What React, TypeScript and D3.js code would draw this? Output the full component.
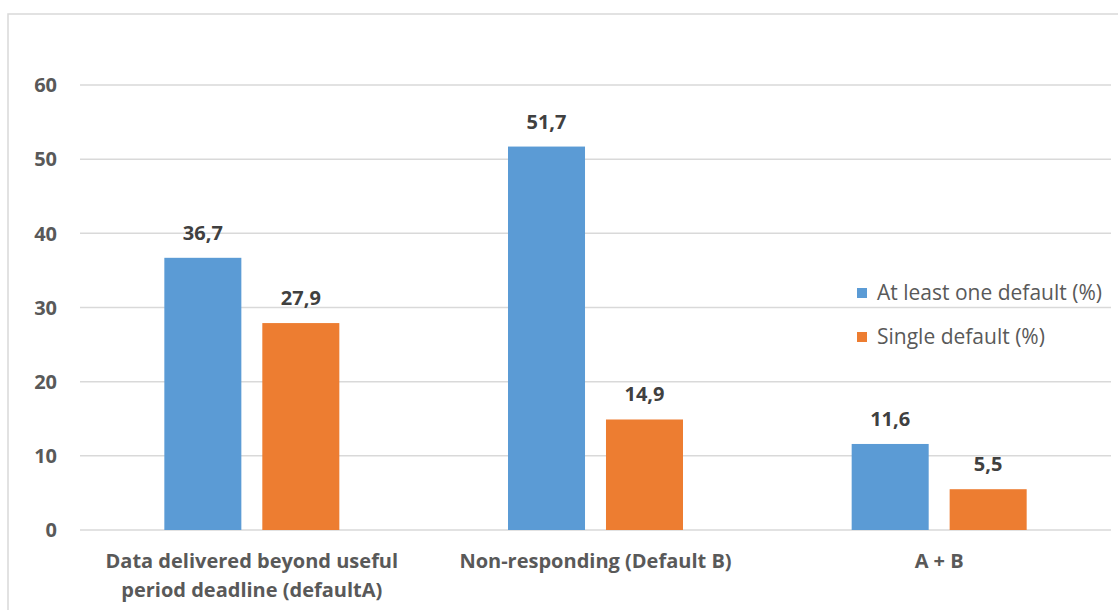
import React from 'react';
import * as d3 from 'd3';

const categories = ['Data delivered beyond useful|period deadline (defaultA)', 'Non-responding (Default B)', 'A + B'];
const seriesNames = ['At least one default (%)', 'Single default (%)'];
const atLeastOne = [36.7, 51.7, 11.6];
const singleDefault = [27.9, 14.9, 5.5];
const yTicks = [0, 10, 20, 30, 40, 50, 60];
const colors = ['#5b9bd5', '#ed7d31'];

const W = 1118;
const H = 610;
const margin = { left: 80, right: 7, top: 85, bottom: 80 };

const App: React.FC = () => {
  const x0 = d3.scaleBand<number>()
    .domain(d3.range(categories.length))
    .range([margin.left, W - margin.right]);
  const step = x0.bandwidth();
  const outer = (step - 175) / 2;
  const x1 = d3.scaleBand<number>()
    .domain([0, 1])
    .range([outer, step - outer])
    .paddingInner(0.214);
  const y = d3.scaleLinear().domain([0, 60]).range([H - margin.bottom, margin.top]);
  const values = [atLeastOne, singleDefault];
  const font = '"Open Sans", sans-serif';

  return (
    <svg width={W} height={H} style={{ position: 'absolute', left: 0, top: 0 }}>
      <rect x={8} y={14} width={W} height={H} fill="#fff" stroke="#d9d9d9" strokeWidth={1.5} />
      {yTicks.map(t => (
        <g key={t}>
          <line x1={margin.left} x2={W - margin.right} y1={y(t)} y2={y(t)} stroke="#d9d9d9" strokeWidth={1.5} />
          <text x={57} y={y(t)} dy="0.36em" textAnchor="end" fontFamily={font} fontWeight="bold" fontSize={20} fill="#595959">{t}</text>
        </g>
      ))}
      {categories.map((c, i) => (
        <g key={c}>
          {values.map((vals, s) => (
            <g key={s}>
              <rect x={x0(i)! + x1(s)!} y={y(vals[i])} width={x1.bandwidth()} height={y(0) - y(vals[i])} fill={colors[s]} />
              <text x={x0(i)! + x1(s)! + x1.bandwidth() / 2} y={y(vals[i]) - 18} textAnchor="middle"
                fontFamily={font} fontWeight="bold" fontSize={20} fill="#404040">
                {vals[i].toFixed(1).replace('.', ',')}
              </text>
            </g>
          ))}
          {c.split('|').map((line, k) => (
            <text key={k} x={x0(i)! + step / 2} y={568 + k * 29} textAnchor="middle"
              fontFamily={font} fontWeight="bold" fontSize={20} fill="#595959">{line}</text>
          ))}
        </g>
      ))}
      {seriesNames.map((n, s) => (
        <g key={n} transform={`translate(857, ${293 + s * 44})`}>
          <rect x={0} y={-5} width={10} height={10} fill={colors[s]} />
          <text x={20} y={0} dy="0.35em" fontFamily={font} fontSize={21} fill="#595959">{n}</text>
        </g>
      ))}
    </svg>
  );
};

export default App;
